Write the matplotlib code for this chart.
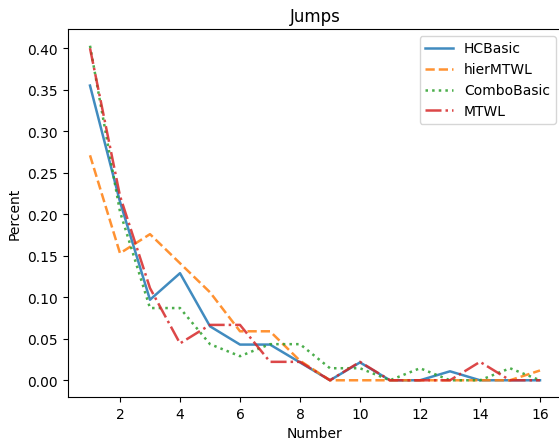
import matplotlib
matplotlib.use('Agg')
import matplotlib.pyplot as plt

# ===== Data =====

NUMBERS = list(range(1, 17))

HC_BASIC = [0.355, 0.215, 0.097, 0.129, 0.065, 0.043, 0.043, 0.0215, 0.0, 0.0215,
            0.0, 0.0, 0.0108, 0.0, 0.0, 0.0]
HIER_MTWL = [0.271, 0.153, 0.176, 0.141, 0.106, 0.059, 0.059, 0.0235, 0.0, 0.0,
             0.0, 0.0, 0.0, 0.0, 0.0, 0.0118]
COMBO_BASIC = [0.403, 0.203, 0.087, 0.087, 0.0435, 0.029, 0.0435, 0.0435, 0.0145, 0.0145,
               0.0, 0.0145, 0.0, 0.0, 0.0145, 0.0]
MTWL = [0.40, 0.222, 0.111, 0.0444, 0.0667, 0.0667, 0.0222, 0.0222, 0.0, 0.0222,
        0.0, 0.0, 0.0, 0.0222, 0.0, 0.0]

# ===== Plot =====

fig = plt.figure(figsize=(5.59, 4.39), dpi=100)
ax = fig.add_axes([67.5 / 559, 1 - 398 / 439, 495 / 559, 368 / 439])

style = dict(linewidth=1.8, alpha=0.85)
ax.plot(NUMBERS, HC_BASIC, '-', color='tab:blue', label='HCBasic', **style)
ax.plot(NUMBERS, HIER_MTWL, '--', color='tab:orange', label='hierMTWL', **style)
ax.plot(NUMBERS, COMBO_BASIC, ':', color='tab:green', label='ComboBasic', **style)
ax.plot(NUMBERS, MTWL, '-.', color='tab:red', label='MTWL', **style)

ax.set_title('Jumps')
ax.set_xlabel('Number')
ax.set_ylabel('Percent')
ax.legend(loc='upper right')

fig.savefig('out.png', dpi=100)
